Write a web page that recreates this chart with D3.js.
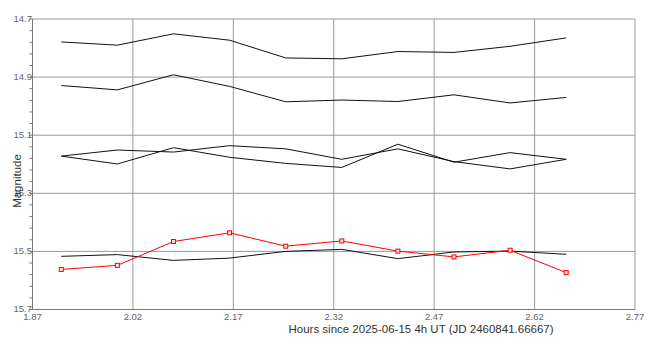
<!DOCTYPE html>
<html><head><meta charset="utf-8">
<script src="https://cdn.jsdelivr.net/npm/d3@7/dist/d3.min.js"></script>
<style>html,body{margin:0;padding:0;background:#fff;}svg{display:block;}</style>
</head><body>
<svg id="c" width="661" height="359"></svg>
<script>
const times = [1.913, 1.9968, 2.0806, 2.1644, 2.2482, 2.332, 2.4158, 2.4996, 2.5834, 2.6672];
const compA = [14.779, 14.790, 14.751, 14.773, 14.834, 14.837, 14.812, 14.815, 14.794, 14.765];
const compB = [14.929, 14.944, 14.892, 14.932, 14.985, 14.979, 14.984, 14.961, 14.989, 14.970];
const compC = [15.172, 15.199, 15.143, 15.176, 15.197, 15.211, 15.131, 15.193, 15.160, 15.183];
const compD = [15.172, 15.151, 15.158, 15.136, 15.147, 15.183, 15.147, 15.191, 15.216, 15.183];
const compE = [15.517, 15.511, 15.531, 15.523, 15.500, 15.493, 15.525, 15.502, 15.499, 15.510];
const target = [15.562, 15.548, 15.466, 15.436, 15.482, 15.464, 15.499, 15.519, 15.496, 15.573];
const xTicks = [1.87, 2.02, 2.17, 2.32, 2.47, 2.62, 2.77];
const yTicks = [14.7, 14.9, 15.1, 15.3, 15.5, 15.7];
const yMinor = [14.7,14.74,14.78,14.82,14.86,14.9,14.94,14.98,15.02,15.06,15.1,15.14,15.18,15.22,15.26,15.3,15.34,15.38,15.42,15.46,15.5,15.54,15.58,15.62,15.66,15.7];
const xTitle = "Hours since 2025-06-15 4h UT (JD 2460841.66667)";
const yTitle = "Magnitude";

const svg = d3.select("#c");
const x = d3.scaleLinear().domain([1.87, 2.77]).range([32.5, 635]);
const y = d3.scaleLinear().domain([14.7, 15.7]).range([19, 309.5]);
const font = "'Liberation Sans', Arial, sans-serif";

// gridlines
svg.append("g").selectAll("line").data(xTicks).join("line")
  .attr("x1", d => x(d)).attr("x2", d => x(d))
  .attr("y1", y(14.7)).attr("y2", y(15.7))
  .attr("stroke", "#999").attr("stroke-width", 1);
svg.append("g").selectAll("line").data(yTicks).join("line")
  .attr("x1", x(1.87)).attr("x2", x(2.77))
  .attr("y1", d => y(d)).attr("y2", d => y(d))
  .attr("stroke", "#999").attr("stroke-width", 1);

// axes lines
svg.append("line").attr("x1", x(1.87)).attr("x2", x(1.87)).attr("y1", y(14.7)).attr("y2", y(15.7)).attr("stroke", "#777");
svg.append("line").attr("x1", x(1.87)).attr("x2", x(2.77)).attr("y1", y(15.7)).attr("y2", y(15.7)).attr("stroke", "#777");

// minor ticks
svg.append("g").selectAll("line").data(yMinor).join("line")
  .attr("x1", x(1.87) - 3).attr("x2", x(1.87))
  .attr("y1", d => y(d)).attr("y2", d => y(d))
  .attr("stroke", "#777");

// tick labels
svg.append("g").selectAll("text").data(yTicks).join("text")
  .attr("x", 32).attr("y", d => y(d)).attr("dy", "0.3em")
  .attr("text-anchor", "end").attr("font-family", font).attr("font-size", "9.5px")
  .attr("fill", "#666").text(d => d.toFixed(1));
svg.append("g").selectAll("text").data(xTicks).join("text")
  .attr("x", d => x(d)).attr("y", 319.5)
  .attr("text-anchor", "middle").attr("font-family", font).attr("font-size", "9.5px")
  .attr("fill", "#666").text(d => d.toFixed(2));

// titles
svg.append("text").attr("x", 421).attr("y", 333).attr("text-anchor", "middle")
  .attr("font-family", font).attr("font-size", "11.5px").attr("fill", "#333").text(xTitle);
svg.append("text").attr("transform", "translate(21,181) rotate(-90)").attr("text-anchor", "middle")
  .attr("font-family", font).attr("font-size", "11.5px").attr("fill", "#333").text(yTitle);

// series
const line = d3.line().x((d, i) => x(times[i])).y(d => y(d));
[compA, compB, compC, compD, compE].forEach(s => {
  svg.append("path").attr("d", line(s)).attr("fill", "none").attr("stroke", "#111").attr("stroke-width", 1);
});
svg.append("path").attr("d", line(target)).attr("fill", "none").attr("stroke", "#f00").attr("stroke-width", 1);
svg.append("g").selectAll("rect").data(target).join("rect")
  .attr("x", (d, i) => x(times[i]) - 2).attr("y", d => y(d) - 2)
  .attr("width", 4).attr("height", 4)
  .attr("fill", "#fdd").attr("stroke", "#f00").attr("stroke-width", 1);
</script>
</body></html>
